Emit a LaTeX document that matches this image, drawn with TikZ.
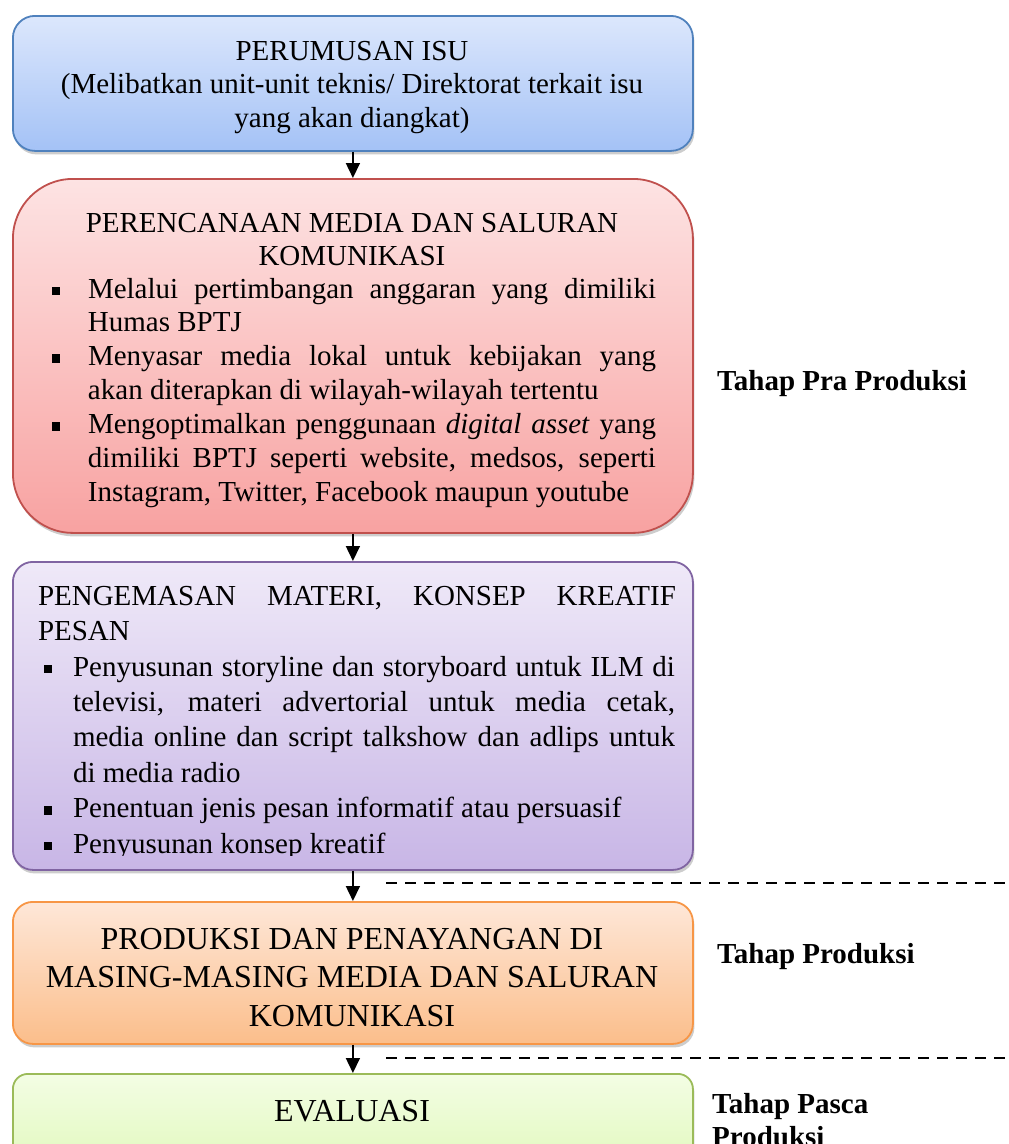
\documentclass[tikz,border=0pt]{standalone}
\usepackage{fontspec}
\setmainfont{Liberation Serif}
\usetikzlibrary{arrows.meta,shadows}
\definecolor{blueTop}{HTML}{DCE7FC}
\definecolor{blueBot}{HTML}{A4C2F6}
\definecolor{blueLine}{HTML}{4F81BD}
\definecolor{redTop}{HTML}{FDE3E3}
\definecolor{redBot}{HTML}{F8A2A1}
\definecolor{redLine}{HTML}{C0504D}
\definecolor{purTop}{HTML}{EFE9F8}
\definecolor{purBot}{HTML}{C8B6E6}
\definecolor{purLine}{HTML}{8064A2}
\definecolor{oraTop}{HTML}{FEE7D8}
\definecolor{oraBot}{HTML}{FBBE8B}
\definecolor{oraLine}{HTML}{F79646}
\definecolor{greTop}{HTML}{F3FDE4}
\definecolor{greBot}{HTML}{D6F6A4}
\definecolor{greLine}{HTML}{9BBB59}
\newcommand{\fsz}[2]{\fontsize{#1pt}{#2pt}\selectfont}
\newcommand{\mybul}[2]{\par\noindent\hangindent=#1pt\hangafter=1\makebox[#1pt][l]{\rule[3pt]{8.5pt}{8.5pt}}#2}
\tikzset{
  flowbox/.style={draw, line width=1.8pt, rounded corners=#1, anchor=north west,
    inner sep=0pt, minimum width=680pt, shading=axis,
    drop shadow={shadow xshift=1.5pt, shadow yshift=-3.5pt, opacity=0.28, fill=black!70}},
  txt/.style={inner sep=0pt, outer sep=0pt},
  arr/.style={line width=1.6pt, -{Triangle[width=14pt,length=15pt]}},
  sep/.style={line width=2.8pt, dash pattern=on 11pt off 8pt},
  lab/.style={inner sep=0pt, font=\bfseries\fsz{29}{33}}
}
\begin{document}
\begin{tikzpicture}[x=1pt,y=-1pt]
\useasboundingbox (0,0) rectangle (1009,1144);
% boxes
\node[flowbox=22pt, top color=blueTop, bottom color=blueBot, draw=blueLine, minimum height=135pt] (b1) at (12,15) {};
\node[flowbox=60pt, top color=redTop, bottom color=redBot, draw=redLine, minimum height=354pt] (b2) at (12,178) {};
\node[flowbox=20pt, top color=purTop, bottom color=purBot, draw=purLine, minimum height=308pt] (b3) at (12,561) {};
\node[flowbox=20pt, top color=oraTop, bottom color=oraBot, draw=oraLine, minimum height=142pt] (b4) at (12,901) {};
\node[flowbox=15pt, top color=greTop, bottom color=greBot!70!greTop, draw=greLine, minimum height=110pt] (b5) at (12,1073) {};
% connectors
\draw[arr] (b1.south) -- (b2.north);
\draw[arr] (b2.south) -- (b3.north);
\draw[arr] (b3.south) -- (b4.north);
\draw[arr] (b4.south) -- (b5.north);
% dashed separators
\coordinate (s1a) at (386,883);
\coordinate (s1b) at (1009,883);
\coordinate (s2a) at (386,1058);
\coordinate (s2b) at (1009,1058);
\draw[sep] (s1a) -- (s1b);
\draw[sep] (s2a) -- (s2b);
% blue text
\node[txt, anchor=base] (t1) at (352,60) {\begin{minipage}[t]{680pt}\centering\fsz{29}{33.5}PERUMUSAN ISU\\(Melibatkan unit-unit teknis/ Direktorat terkait isu\\yang akan diangkat)\end{minipage}};
% red text
\node[txt, anchor=base] (t2a) at (352,232) {\begin{minipage}[t]{680pt}\centering\fsz{29}{33}PERENCANAAN MEDIA DAN SALURAN\\KOMUNIKASI\end{minipage}};
\node[txt, anchor=base west] (t2b) at (52,298) {\begin{minipage}[t]{604pt}\fsz{29}{33.9}%
\mybul{36}{Melalui pertimbangan anggaran yang dimiliki\linebreak Humas BPTJ}
\mybul{36}{Menyasar media lokal untuk kebijakan yang\linebreak akan diterapkan di wilayah-wilayah tertentu}
\mybul{36}{Mengoptimalkan penggunaan \textit{digital asset} yang\linebreak dimiliki BPTJ seperti website, medsos, seperti\linebreak Instagram, Twitter, Facebook maupun youtube}\par
\end{minipage}};
% purple text
\begin{scope}
\clip (0,540) rectangle (700,855);
\node[txt, anchor=base west] (t3a) at (38,605) {\begin{minipage}[t]{638pt}\fsz{29}{35.4}%
PENGEMASAN MATERI, KONSEP KREATIF\linebreak PESAN\par
\end{minipage}};
\node[txt, anchor=base west] (t3b) at (44,676) {\begin{minipage}[t]{631pt}\fsz{29}{35.4}%
\mybul{29}{Penyusunan storyline dan storyboard untuk ILM di\linebreak televisi, materi advertorial untuk media cetak,\linebreak media online dan script talkshow dan adlips untuk\linebreak di media radio}
\mybul{29}{Penentuan jenis pesan informatif atau persuasif}
\mybul{29}{Penyusunan konsep kreatif}\par
\end{minipage}};
\end{scope}
% orange text
\node[txt, anchor=base] (t4) at (352,949) {\begin{minipage}[t]{680pt}\centering\fsz{32}{38.5}PRODUKSI DAN PENAYANGAN DI\\MASING-MASING MEDIA DAN SALURAN\\KOMUNIKASI\end{minipage}};
% green text
\node[txt, anchor=base, font=\fsz{32}{38}] (t5) at (352,1121) {EVALUASI};
% stage labels
\node[lab, anchor=base west] (l1) at (717,390) {Tahap Pra Produksi};
\node[lab, anchor=base west] (l2) at (717,963) {Tahap Produksi};
\node[lab, anchor=base west, align=left] (l3) at (712,1146) {Tahap Pasca\\Produksi};
\end{tikzpicture}
\end{document}
